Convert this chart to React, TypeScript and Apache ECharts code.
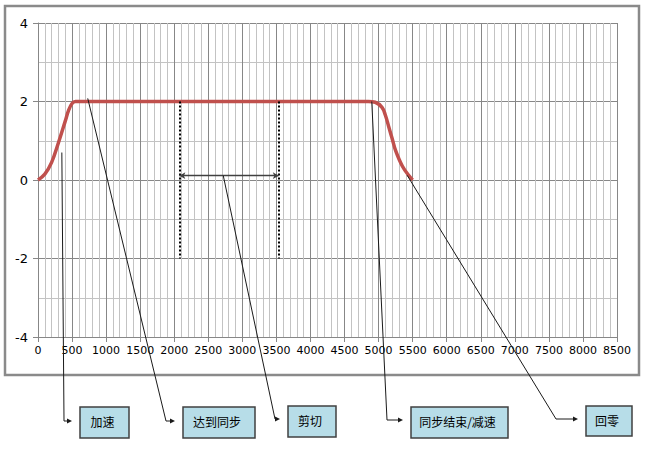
import React, { useEffect, useRef } from "react";
import * as echarts from "echarts";

// Position (pulses) vs. speed profile
const curveX = [0, 100, 200, 300, 400, 450, 500, 550, 600, 4850, 4950, 5050, 5100, 5150, 5200, 5250, 5350, 5450, 5500];
const curveY = [0, 0.15, 0.45, 0.95, 1.5, 1.78, 1.95, 2.0, 2.0, 2.0, 1.98, 1.85, 1.65, 1.35, 1.05, 0.75, 0.35, 0.1, 0];

// Cut section (dotted markers) and arrow level
const cutStart = 2075;
const cutEnd = 3535;
const cutTop = 2;
const cutBottom = -2;
const cutArrowY = 0.11;

// Annotation labels and the data points they point at
const noteLabels = ["加速", "达到同步", "剪切", "同步结束/减速", "回零"];
const noteAnchorX = [350, 730, 2720, 4900, 5420];
const noteAnchorY = [0.7, 2.08, 0.11, 2.0, 0.12];

const xTicks = { min: 0, max: 8500, interval: 500 };
const yTicks = { min: -4, max: 4, interval: 2 };

export default function App() {
  const ref = useRef<HTMLDivElement>(null);
  useEffect(() => {
    document.body.style.margin = "0";
    const chart = echarts.init(ref.current!, null, { renderer: "svg" });
    const major = "#878787";
    const minor = "#c3c3c3";
    chart.setOption({
      animation: false,
      backgroundColor: "#ffffff",
      grid: { left: 38, right: 32, top: 23, bottom: 115, containLabel: false },
      xAxis: {
        type: "value",
        min: xTicks.min,
        max: xTicks.max,
        interval: xTicks.interval,
        axisLine: { show: true, onZero: false, lineStyle: { color: major, width: 1 } },
        axisTick: { show: true, length: 5, lineStyle: { color: major } },
        axisLabel: {
          fontFamily: "DejaVu Sans",
          fontSize: 11,
          color: "#000",
          margin: 8,
          showMaxLabel: true,
          showMinLabel: true,
          formatter: (v: number) => String(v),
        },
        splitLine: { show: true, lineStyle: { color: major, width: 1 } },
        minorTick: { show: false, splitNumber: 5 },
        minorSplitLine: { show: true, lineStyle: { color: minor, width: 1 } },
      },
      yAxis: {
        type: "value",
        min: yTicks.min,
        max: yTicks.max,
        interval: yTicks.interval,
        axisLine: { show: true, onZero: false, lineStyle: { color: major, width: 1 } },
        axisTick: { show: true, length: 5, lineStyle: { color: major } },
        axisLabel: { fontFamily: "DejaVu Sans", fontSize: 13, color: "#000", margin: 10, formatter: (v: number) => String(v) },
        splitLine: { show: true, lineStyle: { color: major, width: 1 } },
        minorTick: { show: false, splitNumber: 2 },
        minorSplitLine: { show: true, lineStyle: { color: minor, width: 1 } },
      },
      series: [
        {
          type: "line",
          data: curveX.map((x, i) => [x, curveY[i]]),
          smooth: 0.4,
          showSymbol: false,
          symbol: "none",
          lineStyle: { color: "#C0504D", width: 3.5 },
          z: 3,
          markLine: {
            silent: true,
            symbol: "none",
            label: { show: false },
            data: [
              [
                { coord: [cutStart, cutTop], lineStyle: { color: "#000", width: 2, type: [2, 2] } },
                { coord: [cutStart, cutBottom] },
              ],
              [
                { coord: [cutEnd, cutTop], lineStyle: { color: "#000", width: 2, type: [2, 2] } },
                { coord: [cutEnd, cutBottom] },
              ],
            ],
          },
        },
        {
          type: "line",
          data: [],
          markLine: {
            silent: true,
            symbol: ["arrow", "arrow"],
            symbolSize: [5, 6],
            label: { show: false },
            lineStyle: { color: "#404040", width: 1.3, type: "solid" },
            data: [[{ coord: [cutStart, cutArrowY] }, { coord: [cutEnd, cutArrowY] }]],
          },
        },
      ],
    });

    // Annotation boxes (layout, in pixels)
    const boxes = [
      { x: 80, y: 407, w: 49, h: 31, ex: 64, ey: 421 },
      { x: 183, y: 407, w: 72, h: 31, ex: 166, ey: 421 },
      { x: 288, y: 406, w: 48, h: 31, ex: 275, ey: 419 },
      { x: 411, y: 407, w: 97, h: 31, ex: 387, ey: 420 },
      { x: 586, y: 406, w: 46, h: 30, ex: 556, ey: 419 },
    ];
    const elements: any[] = [
      {
        type: "rect",
        shape: { x: 5, y: 6, width: 634, height: 369 },
        style: { fill: "none", stroke: "#8a8a8a", lineWidth: 2.5 },
        z: 0,
        silent: true,
      },
    ];
    boxes.forEach((b, i) => {
      const p = chart.convertToPixel({ gridIndex: 0 }, [noteAnchorX[i], noteAnchorY[i]]) as number[];
      const tipX = b.x - 8;
      elements.push({
        type: "polyline",
        shape: { points: [[p[0], p[1]], [b.ex, b.ey], [tipX - 4, b.ey]] },
        style: { stroke: "#1a1a1a", lineWidth: 1, fill: "none" },
        z: 10,
        silent: true,
      });
      elements.push({
        type: "polygon",
        shape: { points: [[tipX, b.ey], [tipX - 5, b.ey - 2.5], [tipX - 5, b.ey + 2.5]] },
        style: { fill: "#1a1a1a" },
        z: 10,
        silent: true,
      });
      elements.push({
        type: "rect",
        shape: { x: b.x, y: b.y, width: b.w, height: b.h },
        style: { fill: "#B7DDE8", stroke: "#404040", lineWidth: 1.5 },
        z: 10,
        silent: true,
      });
      elements.push({
        type: "text",
        x: b.x + b.w / 2 - 2,
        y: b.y + b.h / 2 - 1,
        style: {
          text: noteLabels[i],
          font: '12px "Noto Sans CJK SC"',
          fill: "#000",
          align: "center",
          verticalAlign: "middle",
        },
        z: 11,
        silent: true,
      });
    });
    chart.setOption({ graphic: { elements } });
    return () => chart.dispose();
  }, []);
  return <div ref={ref} style={{ width: 649, height: 452 }} />;
}
